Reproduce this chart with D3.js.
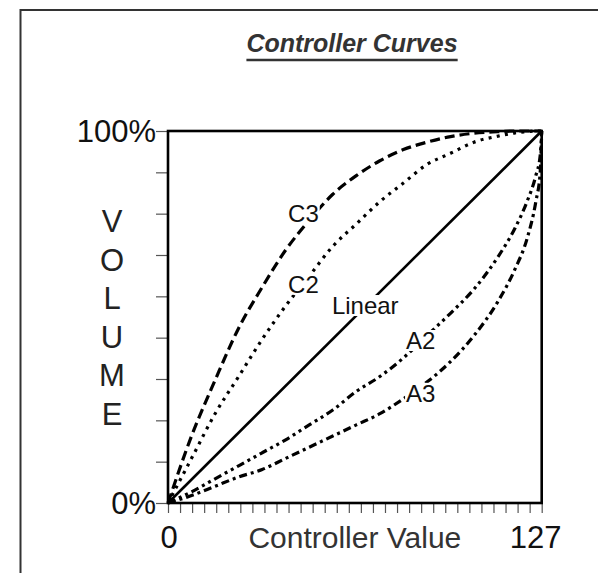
<!DOCTYPE html>
<html>
<head>
<meta charset="utf-8">
<script src="https://cdn.jsdelivr.net/npm/d3@7"></script>
<style>
    body { margin: 0; background: #fff; }
    svg { display: block; font-family: "Liberation Sans", Arial, sans-serif; }
</style>
</head>
<body>
<svg id="chart" width="598" height="573"></svg>
<script>
var controllerValues = [0, 8, 16, 24, 32, 40, 48, 56, 64, 72, 80, 88, 96, 104, 112, 118, 122, 125, 126.5, 127];
// volume in percent for each curve
var c3Values = [0, 18, 33, 47, 58, 68, 76, 83, 88, 92, 95, 97, 98.5, 99.4, 99.8, 100, 100, 100, 100, 100];
var c2Values = [0, 12, 24, 34, 44, 53, 61, 69, 75, 81, 86, 91, 94, 97, 98.6, 99.5, 99.8, 100, 100, 100];
var a2Values = [0, 3, 6.5, 10, 13.5, 17, 21, 25, 30, 34, 39, 45, 51, 57.5, 66, 74, 81, 88, 93.5, 100];
var a3Values = [0, 2, 4.5, 7, 9, 12, 15, 18, 21, 24, 28, 32.5, 38, 45, 54, 63, 71, 81, 89, 100];
var linearX = [0, 127];
var linearValues = [0, 100];

// curve names and where their labels sit (in data units)
var curveNames = ["C3", "C2", "Linear", "A2", "A3"];
var labelX = [40.8, 40.8, 55.7, 80.9, 80.9];
var labelY = [75.5, 56.5, 50.8, 41.4, 27.2];

var yTickLabels = ["0%", "100%"];
var xTickLabels = ["0", "127"];
var axisLetters = ["V", "O", "L", "U", "M", "E"];

var svg = d3.select("#chart");

// plot box
var plotLeft = 168, plotRight = 541.7, plotTop = 131, plotBottom = 503;

var x = d3.scaleLinear().domain([0, 127]).range([plotLeft, plotRight]);
var y = d3.scaleLinear().domain([0, 100]).range([plotBottom, plotTop]);

// outer frame (open at right and bottom)
svg.append("path")
    .attr("d", "M20.5,573V10H598")
    .attr("fill", "none")
    .attr("stroke", "#333")
    .attr("stroke-width", 2);

// title, underlined
var title = svg.append("text")
    .attr("x", 352)
    .attr("y", 52)
    .attr("text-anchor", "middle")
    .style("font-size", "25px")
    .style("font-weight", "bold")
    .style("font-style", "italic")
    .style("fill", "#333")
    .text("Controller Curves");

var tb = title.node().getBBox();
svg.append("line")
    .attr("x1", tb.x)
    .attr("x2", tb.x + tb.width)
    .attr("y1", 60)
    .attr("y2", 60)
    .attr("stroke", "#333")
    .attr("stroke-width", 2.5);

// y axis ticks: 9 steps, labels only on the ends
var yAxis = d3.axisLeft(y)
    .tickValues(d3.range(10).map(function(i) { return i * 100 / 9; }))
    .tickSize(12)
    .tickFormat("");

svg.append("g")
    .attr("transform", "translate(" + plotLeft + ",0)")
    .call(yAxis)
    .call(function(g) {
        g.select(".domain").remove();
        g.selectAll(".tick line").attr("stroke", "#555").attr("stroke-width", 1.2);
    });

// x axis ticks: 31 steps
var xAxis = d3.axisBottom(x)
    .tickValues(d3.range(32).map(function(i) { return i * 127 / 31; }))
    .tickSize(10)
    .tickFormat("");

svg.append("g")
    .attr("transform", "translate(0," + plotBottom + ")")
    .call(xAxis)
    .call(function(g) {
        g.select(".domain").remove();
        g.selectAll(".tick line").attr("stroke", "#555").attr("stroke-width", 1.2);
    });

// y end labels
svg.append("g")
    .selectAll("text")
    .data(yTickLabels)
    .join("text")
    .attr("x", plotLeft - 12)
    .attr("y", function(d, i) { return y(i * 100) + 11; })
    .attr("text-anchor", "end")
    .style("font-size", "31px")
    .style("fill", "#111")
    .text(function(d) { return d; });

// x end labels
svg.append("g")
    .selectAll("text")
    .data(xTickLabels)
    .join("text")
    .attr("x", function(d, i) { return i == 0 ? x(0) + 1 : x(127) - 6; })
    .attr("y", 548)
    .attr("text-anchor", "middle")
    .style("font-size", "31px")
    .style("fill", "#111")
    .text(function(d) { return d; });

// x axis title
svg.append("text")
    .attr("x", (plotLeft + plotRight) / 2)
    .attr("y", 548)
    .attr("text-anchor", "middle")
    .style("font-size", "30px")
    .style("fill", "#333")
    .text("Controller Value");

// y axis title, one letter per line
svg.append("g")
    .selectAll("text")
    .data(axisLetters)
    .join("text")
    .attr("x", 112)
    .attr("y", function(d, i) { return 232 + i * 38.6; })
    .attr("text-anchor", "middle")
    .style("font-size", "31px")
    .style("fill", "#222")
    .text(function(d) { return d; });

// lines
var line = d3.line()
    .x(function(d) { return x(d[0]); })
    .y(function(d) { return y(d[1]); })
    .curve(d3.curveMonotoneX);

var series = [
    { values: c3Values, dash: "10,5", width: 3.2 },
    { values: c2Values, dash: "3,5.3", width: 3.2 },
    { values: a2Values, dash: "8,4,3,4,3,4", width: 3.2 },
    { values: a3Values, dash: "8,4,3,4", width: 3.2 }
];

var curves = svg.append("g");

series.forEach(function(s) {
    curves.append("path")
        .datum(d3.zip(controllerValues, s.values))
        .attr("d", line)
        .attr("fill", "none")
        .attr("stroke", "#000")
        .attr("stroke-width", s.width)
        .attr("stroke-dasharray", s.dash);
});

curves.append("path")
    .datum(d3.zip(linearX, linearValues))
    .attr("d", line)
    .attr("fill", "none")
    .attr("stroke", "#000")
    .attr("stroke-width", 2.6);

// plot border on top
svg.append("rect")
    .attr("x", plotLeft)
    .attr("y", plotTop)
    .attr("width", plotRight - plotLeft)
    .attr("height", plotBottom - plotTop)
    .attr("fill", "none")
    .attr("stroke", "#000")
    .attr("stroke-width", 2.6);

// curve labels, on a white patch so the line breaks behind them
var labels = svg.append("g")
    .selectAll("g")
    .data(curveNames)
    .join("g");

var labelText = labels.append("text")
    .attr("x", function(d, i) { return x(labelX[i]); })
    .attr("y", function(d, i) { return y(labelY[i]); })
    .style("font-size", "24px")
    .style("fill", "#111")
    .text(function(d) { return d; });

labels.insert("rect", "text")
    .each(function(d, i) {
        var b = labelText.nodes()[i].getBBox();
        d3.select(this)
            .attr("x", b.x - 1)
            .attr("y", b.y + 3)
            .attr("width", b.width + 2)
            .attr("height", b.height - 6)
            .attr("fill", "#fff");
    });
</script>
</body>
</html>
